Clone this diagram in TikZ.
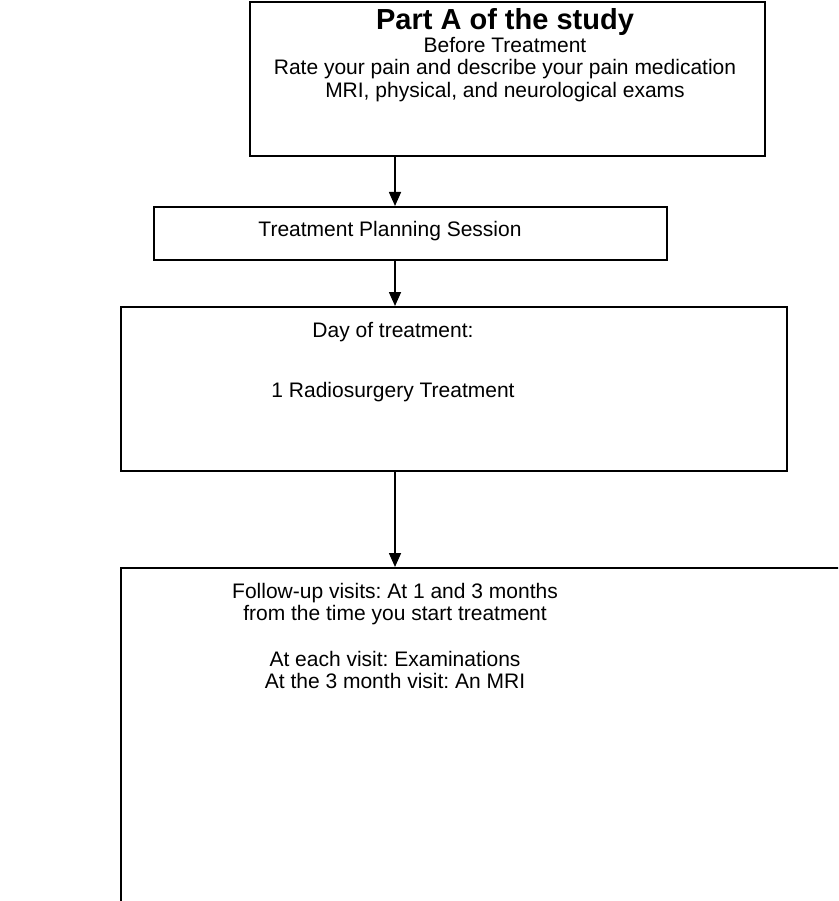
\documentclass[tikz,border=0pt]{standalone}
\usepackage{fontspec}
\setmainfont{Liberation Sans}
\usepackage{tikz}
\usetikzlibrary{arrows.meta, positioning}
\frenchspacing
\newcommand{\flowbody}{\fontsize{21}{22.5}\selectfont}
\newcommand{\flowtitle}{\fontsize{29}{25}\selectfont\bfseries}

\tikzset{
    stagebox/.style={draw, line width=1.6pt, anchor=north west, inner sep=0pt},
    txt/.style={font=\flowbody, align=center, inner sep=0pt, anchor=north}
}

\begin{document}
\begin{tikzpicture}[x=1pt, y=1pt, >={Triangle[length=14pt, width=12pt]}, line width=1.6pt]
    % --- page frame ---
    \clip (0,0) rectangle (838,-901);
    \coordinate (flow) at (395,0);
    % --- boxes ---
    \node[stagebox, minimum width=515pt, minimum height=154pt] (partA) at (249,-1) {};
    \node[stagebox, minimum width=513pt, minimum height=53pt] (plan) at (153,-206) {};
    \node[stagebox, minimum width=666pt, minimum height=164pt] (day) at (120,-306) {};
    \node[stagebox, minimum width=760pt, minimum height=400pt] (follow) at (120,-567) {};
    % --- texts ---
    \node[txt] (partAtxt) at (505,-8)
        {{\flowtitle Part A of the study}\\Before Treatment\\
         Rate your pain and describe your pain medication\\
         MRI, physical, and neurological exams};
    \node[txt] (plantxt) at (390,-220) {Treatment Planning Session};
    \node[txt] (daytxt) at (393,-322)
        {Day of treatment:\\[37pt]1 Radiosurgery Treatment};
    \node[txt] (followtxt) at (395,-582)
        {Follow-up visits: At 1 and 3 months\\
         from the time you start treatment\\[23pt]
         At each visit: Examinations\\
         At the 3 month visit: An MRI};
    % --- arrows ---
    \draw[->] (partA.south -| flow) -- (plan.north -| flow);
    \draw[->] (plan.south -| flow) -- (day.north -| flow);
    \draw[->] (day.south -| flow) -- (follow.north -| flow);
\end{tikzpicture}
\end{document}
